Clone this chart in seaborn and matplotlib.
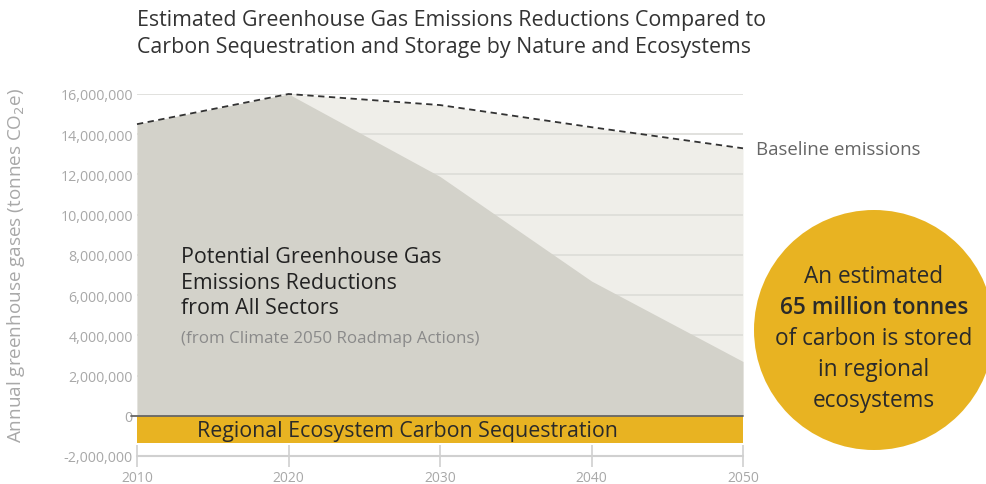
import matplotlib
matplotlib.use("Agg")
import matplotlib.pyplot as plt
import seaborn as sns
import pandas as pd
from matplotlib.patches import Ellipse
from matplotlib.ticker import FuncFormatter

years = [2010, 2020, 2030, 2040, 2050]
baseline = [14.5e6, 16.0e6, 15.45e6, 14.35e6, 13.3e6]
with_actions = [14.5e6, 16.0e6, 11.9e6, 6.7e6, 2.7e6]
sequestration = -1.35e6
yticks = list(range(-2_000_000, 16_000_001, 2_000_000))

df = pd.DataFrame({"year": years, "baseline": baseline, "actions": with_actions})

sns.set_theme(style="white")
plt.rcParams['font.family'] = ['Open Sans', 'DejaVu Sans']

W, H = 987, 485
fig = plt.figure(figsize=(W / 100, H / 100), dpi=100)
ax = fig.add_axes([137 / W, 1 - 457 / H, (743 - 137) / W, (457 - 95) / H])

LIGHT = "#efeee9"
GRAY = "#d3d2ca"
YELLOW = "#e8b322"

ax.fill_between(df["year"], 0, df["baseline"], color=LIGHT, lw=0, zorder=1)
for t in yticks:
    if t > 0:
        ax.axhline(t, color="#dcdcd8", lw=1.2, zorder=1.5)
ax.fill_between(df["year"], 0, df["actions"], color=GRAY, lw=0, zorder=2)
ax.fill_between(df["year"], sequestration, 0, color=YELLOW, lw=0, zorder=2)
sns.lineplot(data=df, x="year", y="baseline", ax=ax, color="#333333",
             lw=1.3, linestyle=(0, (3.5, 2.5)), zorder=4, clip_on=False)
ax.plot([2010 - 0.4, 2050], [0, 0], color="#666666", lw=1.3, zorder=3, clip_on=False)
ax.axhline(-2e6, color="#d0d0d0", lw=1.5, zorder=1, clip_on=False)

ax.set_xlim(2010, 2050)
ax.set_ylim(-2e6, 16e6)
ax.set_xticks(years)
ax.set_yticks(yticks)
ax.yaxis.set_major_formatter(FuncFormatter(lambda v, p: f"{int(v):,}"))
for s in ax.spines.values():
    s.set_visible(False)
ax.tick_params(axis="x", direction="inout", length=16, width=1.2, color="#d0d0d0",
               labelcolor="#a8a8a8", labelsize=10, pad=2, bottom=True)
ax.tick_params(axis="y", length=0, labelcolor="#a8a8a8", labelsize=10.3, pad=3)
ax.set_xlabel("")
ax.set_ylabel("Annual greenhouse gases (tonnes CO$_2$e)", color="#a8a8a8", fontsize=13.6)
ax.yaxis.set_label_coords(-0.1815, 0.528)

fig.text(137 / W, 1 - 34 / H, "Estimated Greenhouse Gas Emissions Reductions Compared to\n"
         "Carbon Sequestration and Storage by Nature and Ecosystems",
         fontsize=15.4, color="#333333", va="center", ha="left", linespacing=1.42)

ax.text(2012.9, 6.65e6, "Potential Greenhouse Gas\nEmissions Reductions\nfrom All Sectors",
        fontsize=15.4, color="#222222", va="center", ha="left", linespacing=1.3, zorder=5)
ax.text(2012.9, 3.85e6, "(from Climate 2050 Roadmap Actions)", fontsize=12.2,
        color="#8a8a8a", va="center", ha="left", zorder=5)
ax.text(2050.86, 13.25e6, "Baseline emissions", fontsize=13.4, color="#666666",
        va="center", ha="left", clip_on=False)
ax.text(2013.96, -0.72e6, "Regional Ecosystem Carbon Sequestration", fontsize=15.4,
        color="#2a2a2a", va="center", ha="left", zorder=5)

cx, cy, r = 874, 331, 120
fig.add_artist(Ellipse((cx / W, 1 - cy / H), 2 * r / W, 2 * r / H,
                       transform=fig.transFigure, color=YELLOW, lw=0))
lines = ["An estimated", "65 million tonnes", "of carbon is stored", "in regional", "ecosystems"]
for i, line in enumerate(lines):
    y = 277 + i * 31
    fig.text(cx / W, 1 - y / H, line, fontsize=16.3, color="#2a2a2a", ha="center",
             va="center", fontweight="semibold" if i == 1 else "normal")

fig.savefig("out.png", dpi=100)
